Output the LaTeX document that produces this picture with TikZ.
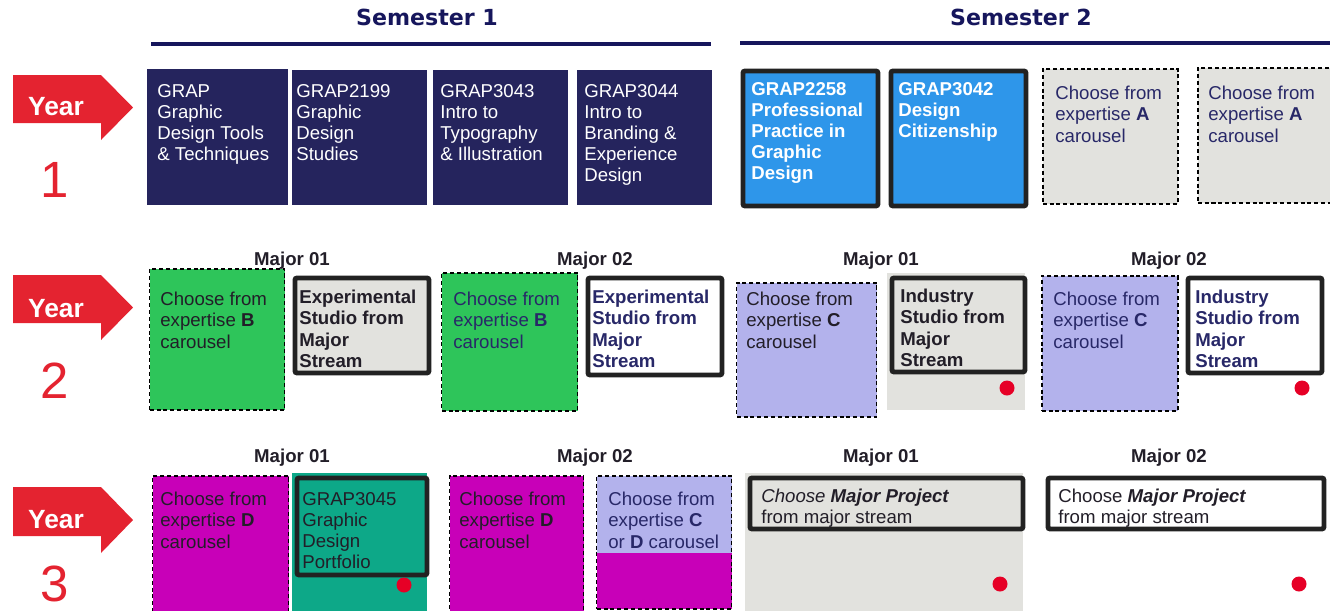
\documentclass[tikz,border=0pt]{standalone}
\usepackage{fontspec}
\setmainfont{Liberation Sans}
\newfontfamily\headfont{DejaVu Sans}
\usepackage{tikz}
\definecolor{yearred}{RGB}{228,35,48}
\definecolor{dotred}{RGB}{230,0,38}
\definecolor{semnavy}{RGB}{22,22,92}
\definecolor{navybox}{RGB}{37,36,93}
\definecolor{bluebox}{RGB}{46,150,234}
\definecolor{greybox}{RGB}{226,226,222}
\definecolor{greenbox}{RGB}{46,197,90}
\definecolor{lavbox}{RGB}{179,178,236}
\definecolor{magbox}{RGB}{200,0,184}
\definecolor{tealbox}{RGB}{13,168,136}
\definecolor{txtnavy}{RGB}{40,40,104}
\definecolor{txtdark}{RGB}{34,30,40}
\definecolor{boxline}{RGB}{34,34,34}
\newcommand{\px}{0.02cm}
\newcommand{\mainfs}{\fontsize{10.6}{12}\selectfont}
\tikzset{
  box/.style={rectangle, inner sep=0pt, anchor=north west},
  dashbox/.style={box, draw=black, line width=0.85pt, dash pattern=on 2.3pt off 1.6pt},
  thickbox/.style={box, draw=boxline, line width=2.8pt, rounded corners=1.2pt},
  txt/.style={anchor=north west, inner sep=0pt, align=left, font=\mainfs},
  btxt/.style={txt, font=\mainfs\bfseries},
  semtitle/.style={anchor=base, inner sep=0pt, font=\headfont\bfseries\fontsize{12.6}{15}\selectfont, text=semnavy},
  semline/.style={draw=semnavy, line width=4*\px},
  major/.style={anchor=base, inner sep=0pt, font=\bfseries\fontsize{10.6}{12}\selectfont, text=txtdark},
  yeartxt/.style={anchor=base, inner sep=0pt, font=\bfseries\fontsize{15}{18}\selectfont, text=white},
  yearnum/.style={anchor=base, inner sep=0pt, font=\fontsize{29}{34}\selectfont, text=yearred},
}

\begin{document}
\begin{tikzpicture}[x=0.02cm,y=-0.02cm]
\useasboundingbox (0,0) rectangle (1330,610);
%semesters
\node[semtitle] (sem1) at (427,25) {Semester 1};
\node[semtitle] (sem2) at (1021,25) {Semester 2};
\draw[semline] (151,44) -- (711,44);
\draw[semline] (740,43) -- (1330,43);
%year arrows
\fill[yearred] (13,75) -- (101,75) -- (133,107.5) -- (101,140) -- (101,123) -- (13,123) -- cycle;
\fill[yearred] (13,275) -- (101,275) -- (133,307.5) -- (101,340) -- (101,323) -- (13,323) -- cycle;
\fill[yearred] (13,487) -- (101,487) -- (133,520) -- (101,553) -- (101,536) -- (13,536) -- cycle;
\node[yeartxt] (year1) at (56,115) {Year};
\node[yeartxt] (year2) at (56,317) {Year};
\node[yeartxt] (year3) at (56,528) {Year};
\node[yearnum] (num1) at (55,197) {1};
\node[yearnum] (num2) at (55,398) {2};
\node[yearnum] (num3) at (55,601) {3};
%year 1, semester 1
\node[box, fill=navybox, minimum width=141*\px, minimum height=136*\px] (grap1) at (147,69) {};
\node[box, fill=navybox, minimum width=135*\px, minimum height=135*\px] (grap2) at (292,70) {};
\node[box, fill=navybox, minimum width=135*\px, minimum height=135*\px] (grap3) at (433,70) {};
\node[box, fill=navybox, minimum width=135*\px, minimum height=135*\px] (grap4) at (577,70) {};
\node[txt, text=white] (grap1t) at (157,84) {GRAP\\Graphic\\Design Tools\\\& Techniques};
\node[txt, text=white] (grap2t) at (296,84) {GRAP2199\\Graphic\\Design\\Studies};
\node[txt, text=white] (grap3t) at (440,84) {GRAP3043\\Intro to\\Typography\\\& Illustration};
\node[txt, text=white] (grap4t) at (584,84) {GRAP3044\\Intro to\\Branding \&\\Experience\\Design};
%year 1, semester 2
\node[thickbox, fill=bluebox, minimum width=135*\px, minimum height=135*\px] (prof) at (740.5,68.5) {};
\node[thickbox, fill=bluebox, minimum width=135*\px, minimum height=135*\px] (citizen) at (888.5,68.5) {};
\node[dashbox, fill=greybox, minimum width=135*\px, minimum height=135*\px] (expA1) at (1042,68) {};
\node[dashbox, fill=greybox, minimum width=135*\px, minimum height=135*\px] (expA2) at (1197,67) {};
\node[btxt, text=white] (proft) at (751,82) {GRAP2258\\Professional\\Practice in\\Graphic\\Design};
\node[btxt, text=white] (citizent) at (898,82) {GRAP3042\\Design\\Citizenship};
\node[txt, text=txtnavy] (expA1t) at (1055,86) {Choose from\\expertise \textbf{A}\\carousel};
\node[txt, text=txtnavy] (expA2t) at (1208,86) {Choose from\\expertise \textbf{A}\\carousel};
%year 2, semester 1
\node[major] (maj21a) at (292,265) {Major 01};
\node[major] (maj22a) at (595,265) {Major 02};
\node[dashbox, fill=greenbox, minimum width=135*\px, minimum height=141*\px] (expB1) at (149,268) {};
\node[thickbox, fill=greybox, minimum width=134*\px, minimum height=95*\px] (expstudio1) at (292.5,275.5) {};
\node[dashbox, fill=greenbox, minimum width=136*\px, minimum height=138*\px] (expB2) at (441,272) {};
\node[thickbox, fill=white, minimum width=134*\px, minimum height=97*\px] (expstudio2) at (585.5,275.5) {};
\node[txt, text=txtdark] (expB1t) at (160,292) {Choose from\\expertise \textbf{B}\\carousel};
\node[btxt, text=txtdark] (expstudio1t) at (299,290) {Experimental\\Studio from\\Major\\Stream};
\node[txt, text=txtnavy] (expB2t) at (453,292) {Choose from\\expertise \textbf{B}\\carousel};
\node[btxt, text=txtnavy] (expstudio2t) at (592,290) {Experimental\\Studio from\\Major\\Stream};
%year 2, semester 2
\node[major] (maj21b) at (881,265) {Major 01};
\node[major] (maj22b) at (1169,265) {Major 02};
\node[dashbox, fill=lavbox, minimum width=140*\px, minimum height=134*\px] (expC1) at (736,282) {};
\node[box, fill=greybox, minimum width=138*\px, minimum height=137*\px] (indbg1) at (887,273) {};
\node[thickbox, fill=greybox, minimum width=133*\px, minimum height=94*\px] (indstudio1) at (889.5,275.5) {};
\node[dashbox, fill=lavbox, minimum width=136*\px, minimum height=135*\px] (expC2) at (1041,275) {};
\node[thickbox, fill=white, minimum width=134*\px, minimum height=95*\px] (indstudio2) at (1185.5,275.5) {};
\node[txt, text=txtdark] (expC1t) at (746,292) {Choose from\\expertise \textbf{C}\\carousel};
\node[btxt, text=txtdark] (indstudio1t) at (900,289) {Industry\\Studio from\\Major\\Stream};
\node[txt, text=txtnavy] (expC2t) at (1053,292) {Choose from\\expertise \textbf{C}\\carousel};
\node[btxt, text=txtnavy] (indstudio2t) at (1195,290) {Industry\\Studio from\\Major\\Stream};
\fill[dotred] (1007,388) circle (7.5*\px);
\fill[dotred] (1302,388) circle (7.5*\px);
%year 3, semester 1
\node[major] (maj31a) at (292,462) {Major 01};
\node[major] (maj32a) at (595,462) {Major 02};
\node[dashbox, fill=magbox, minimum width=136*\px, minimum height=137*\px] (expD1) at (152,475) {};
\node[box, fill=tealbox, minimum width=135*\px, minimum height=139*\px] (portbg) at (292,473) {};
\node[thickbox, fill=tealbox, minimum width=130*\px, minimum height=97*\px] (portfolio) at (294.5,475.5) {};
\node[dashbox, fill=magbox, minimum width=134*\px, minimum height=137*\px] (expD2) at (449,475) {};
\node[dashbox, fill=magbox, minimum width=135*\px, minimum height=133*\px,
  path picture={\fill[lavbox] (path picture bounding box.north west) rectangle ([yshift=-77*\px]path picture bounding box.north east);}] (expCD) at (596,475) {};
\node[txt, text=txtdark] (expD1t) at (160,492) {Choose from\\expertise \textbf{D}\\carousel};
\node[txt, text=txtdark] (portfoliot) at (302,492) {GRAP3045\\Graphic\\Design\\Portfolio};
\node[txt, text=txtdark] (expD2t) at (459,492) {Choose from\\expertise \textbf{D}\\carousel};
\node[txt, text=txtnavy] (expCDt) at (608,492) {Choose from\\expertise \textbf{C}\\or \textbf{D} carousel};
\fill[dotred] (404,585) circle (7.5*\px);
%year 3, semester 2
\node[major] (maj31b) at (881,462) {Major 01};
\node[major] (maj32b) at (1169,462) {Major 02};
\node[box, fill=greybox, minimum width=278*\px, minimum height=139*\px] (projbg1) at (745,473) {};
\node[thickbox, fill=greybox, minimum width=273*\px, minimum height=51*\px] (project1) at (747.5,475.5) {};
\node[thickbox, fill=white, minimum width=276*\px, minimum height=51*\px] (project2) at (1045.5,475.5) {};
\node[txt, text=txtdark] (project1t) at (761,489) {\textit{Choose \textbf{Major Project}}\\from major stream};
\node[txt, text=txtdark] (project2t) at (1058,489) {Choose \textbf{\textit{Major Project}}\\from major stream};
\fill[dotred] (1000,584) circle (7.5*\px);
\fill[dotred] (1299,584) circle (7.5*\px);
\end{tikzpicture}
\end{document}
